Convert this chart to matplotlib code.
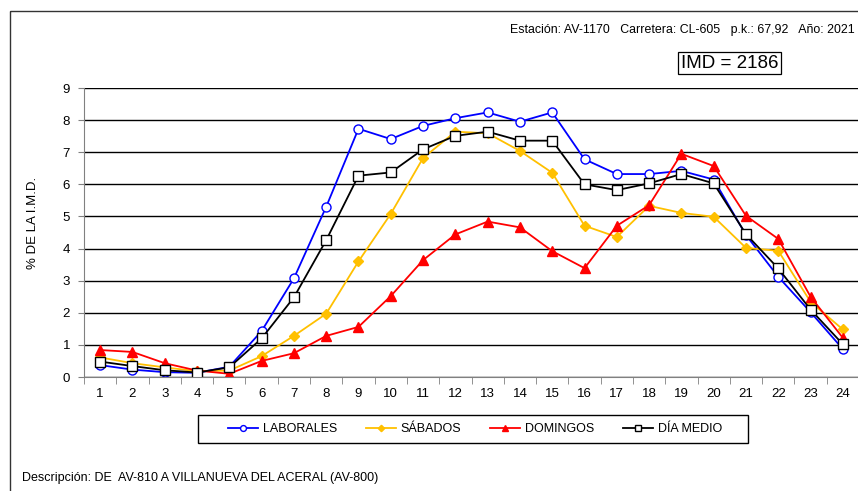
import numpy as np
import matplotlib
matplotlib.use("Agg")
import matplotlib.pyplot as plt
from matplotlib.patches import Rectangle

plt.rcParams['font.family'] = ['Liberation Sans', 'DejaVu Sans']

horas = list(range(1, 25))
laborales = [0.37, 0.23, 0.15, 0.13, 0.32, 1.43, 3.07, 5.3, 7.73, 7.41, 7.82, 8.06,
             8.24, 7.95, 8.24, 6.78, 6.32, 6.32, 6.42, 6.15, 4.42, 3.12, 2.02, 0.87]
sabados = [0.61, 0.43, 0.3, 0.18, 0.2, 0.65, 1.28, 1.97, 3.6, 5.08, 6.82, 7.64,
           7.59, 7.04, 6.36, 4.71, 4.36, 5.33, 5.11, 4.99, 4.02, 3.93, 2.34, 1.48]
domingos = [0.84, 0.78, 0.43, 0.2, 0.1, 0.5, 0.74, 1.28, 1.56, 2.52, 3.64, 4.44,
            4.84, 4.66, 3.92, 3.39, 4.71, 5.35, 6.95, 6.57, 5.02, 4.3, 2.5, 1.22]
dia_medio = [0.48, 0.34, 0.21, 0.14, 0.3, 1.2, 2.48, 4.26, 6.27, 6.37, 7.09, 7.51,
             7.64, 7.36, 7.36, 6.0, 5.82, 6.03, 6.32, 6.03, 4.45, 3.38, 2.1, 1.02]

estacion = "Estación: AV-1170   Carretera: CL-605   p.k.: 67,92   Año: 2021"
imd = "IMD = 2186"
descripcion = "Descripción: DE  AV-810 A VILLANUEVA DEL ACERAL (AV-800)"

W, H = 858, 491
fig = plt.figure(figsize=(W / 100, H / 100), dpi=100)
ax = fig.add_axes([84 / W, 1 - 377 / H, 775 / W, 289 / H])

# marco exterior (sale por la derecha y por abajo)
fig.patches.append(Rectangle((10 / W, 1 - 11 / H), 2, -2, transform=fig.transFigure,
                             fill=False, edgecolor='#333333', linewidth=1.0, clip_on=False))

ax.plot(horas, laborales, color='#0000ff', lw=1.3, marker='o', ms=6.5,
        mfc='white', mec='#0000ff', mew=1.0, label='LABORALES')
ax.plot(horas, sabados, color='#ffc000', lw=1.3, marker='D', ms=5,
        mfc='#ffc000', mec='#ffc000', label='SÁBADOS')
ax.plot(horas, domingos, color='#ff0000', lw=1.3, marker='^', ms=7,
        mfc='#ff0000', mec='#ff0000', label='DOMINGOS')
ax.plot(horas, dia_medio, color='black', lw=1.3, marker='s', ms=7,
        mfc='white', mec='black', mew=1.0, label='DÍA MEDIO')

ax.set_xlim(0.5, 24.5)
ax.set_ylim(0, 9)
ax.set_yticks(range(0, 10))
ax.set_xticks(horas)
ax.set_xticks(np.arange(0.5, 25, 1), minor=True)
ax.tick_params(axis='x', which='major', length=0, labelsize=9.5, pad=8)
ax.tick_params(axis='x', which='minor', length=5, color='#808080', direction='out')
ax.tick_params(axis='y', length=4, color='#808080', labelsize=9.5, pad=6)
ax.yaxis.grid(True, color='black', lw=1.0)
ax.set_axisbelow(True)
for s in ['top', 'right']:
    ax.spines[s].set_visible(False)
ax.spines['left'].set_color('#808080')
ax.spines['bottom'].set_color('#808080')
ax.set_ylabel('% DE LA I.M.D.', fontsize=9.5)
ax.yaxis.set_label_coords((39 - 84) / 775, (377 - 223) / 289)

fig.text(510 / W, 1 - 30 / H, estacion, fontsize=8.9, va='center', ha='left')
fig.text(681 / W, 1 - 63 / H, imd, fontsize=13.5, va='center', ha='left',
         bbox=dict(boxstyle='square,pad=0.15', facecolor='white', edgecolor='black', lw=0.9))

# leyenda sin marco propio; el recuadro se dibuja aparte
leg = fig.legend(loc='center', bbox_to_anchor=(475 / W, 1 - 429 / H), ncol=4,
                 fontsize=9, frameon=False, handlelength=2.4, columnspacing=2.3,
                 handletextpad=0.4, markerscale=0.65)
fig.patches.append(Rectangle((198 / W, 1 - 443 / H), 550 / W, 28 / H, transform=fig.transFigure,
                             fill=False, edgecolor='black', linewidth=1.0))

fig.text(22 / W, 1 - 478 / H, descripcion, fontsize=9, va='center', ha='left')

fig.savefig('out.png', dpi=100)
